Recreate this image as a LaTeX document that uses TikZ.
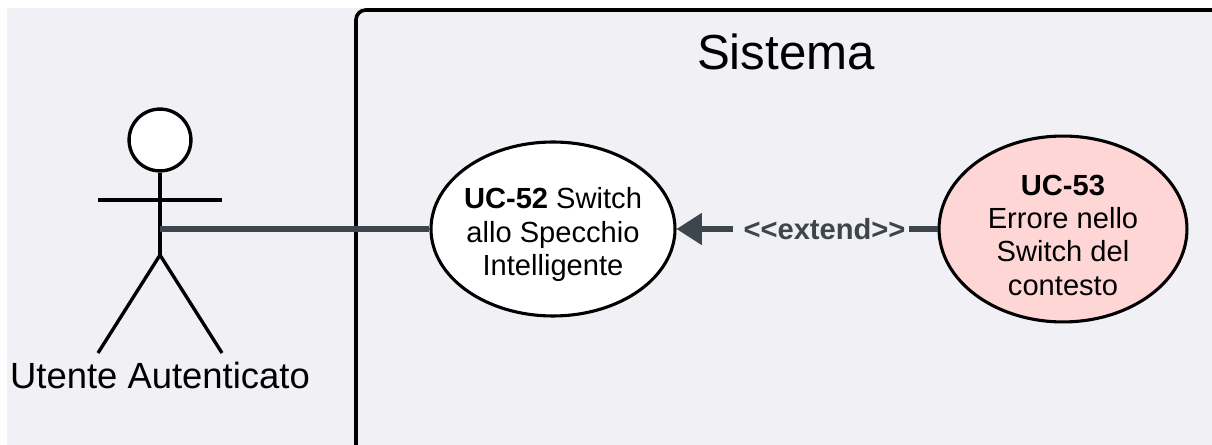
\documentclass[tikz,border=0pt]{standalone}
\usepackage{fontspec}
\setmainfont{Liberation Sans}
\usetikzlibrary{arrows.meta}
\usetikzlibrary{shapes.geometric}
\definecolor{bgcol}{HTML}{F0F0F5}
\definecolor{linkcol}{HTML}{3D464C}
\definecolor{errcol}{HTML}{FFD6D6}
\newcommand{\ucstrut}{\rule{0pt}{23pt}}
\tikzset{
	usecase/.style={ellipse, draw=black, line width=2.2pt, align=center, inner sep=-14pt, font=\fontsize{20.7}{23.7}\selectfont},
	stick/.style={draw=black, line width=2.4pt},
	link/.style={draw=linkcol, line width=3.6pt},
	linklabel/.style={text=linkcol, inner xsep=2pt, font=\fontsize{20.7}{24}\selectfont\bfseries},
}

\begin{document}
\begin{tikzpicture}[x=0.025cm, y=-0.025cm]

	% canvas, leaves a white strip on the left and top
	\useasboundingbox (0,0) rectangle (1212,445);
	\fill[white] (0,0) rectangle (1212,445);
	\fill[bgcol] (7,8) rectangle (1212,445);

	% system boundary, runs off the right and bottom edges
	\begin{scope}
		\clip (0,0) rectangle (1212,445);
		\draw[black, line width=2.6pt, rounded corners=7pt] (1240,10) -- (356,10) -- (356,475);
	\end{scope}
	\node[font=\fontsize{35}{42}\selectfont] (sistema) at (786,52) {Sistema};

	% use cases
	\node[usecase, fill=white, minimum width=173.5pt, minimum height=123.7pt] (uc52) at (553,229) {\ucstrut\textbf{UC-52} Switch\\allo Specchio\\Intelligente};
	\node[usecase, fill=errcol, minimum width=176.3pt, minimum height=132.2pt] (uc53) at (1063,229) {\ucstrut\textbf{UC-53}\\Errore nello\\Switch del\\contesto};

	% actor
	\node[stick, circle, fill=white, minimum size=44pt, inner sep=0pt] (head) at (160,140) {};
	\coordinate (hip) at (160,255);
	\coordinate (handl) at (98,200);
	\coordinate (handr) at (222,200);
	\coordinate (footl) at (98,353);
	\coordinate (footr) at (222,353);
	\coordinate (waist) at (160,229);
	\draw[stick] (head) -- (hip);
	\draw[stick] (handl) -- (handr);
	\draw[stick] (footl) -- (hip) -- (footr);
	\node[font=\fontsize{25.9}{30}\selectfont] (actorname) at (160,375) {Utente Autenticato};

	% links
	\draw[link] (waist) -- (uc52);
	\node[linklabel] (extendlabel) at (821,229) {\hspace*{5pt}<{}<extend>{}>};
	\draw[link] (uc53) -- (extendlabel);
	\draw[link, -{Triangle[length=18pt, width=22pt]}] (extendlabel) -- (uc52);

\end{tikzpicture}
\end{document}
